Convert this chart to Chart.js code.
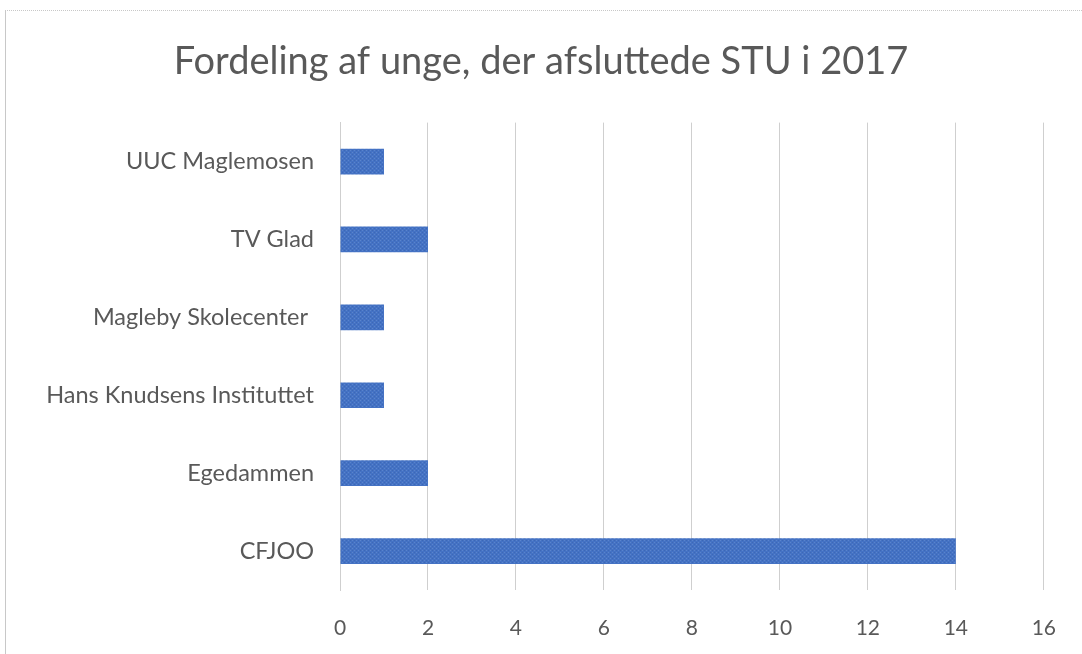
<!DOCTYPE html>
<html>
<head>
<meta charset="utf-8">
<script src="https://cdn.jsdelivr.net/npm/chart.js@4"></script>
<style>
  html, body { margin: 0; padding: 0; background: #fff; }
  #wrap {
    position: absolute; left: 0; top: 0; width: 1082px; height: 654px;
  }
  #frame {
    position: absolute; left: 5px; top: 10px; right: 0; bottom: 0;
    border-top: 1px dotted #c8c8c8; border-left: 1px solid #c8c8c8;
  }
  canvas { position: absolute; left: 0; top: 0; }
</style>
</head>
<body>
<div id="wrap">
  <div id="frame"></div>
  <canvas id="chart" width="1082" height="654"></canvas>
</div>
<script>
// data
const categories = [
  "UUC Maglemosen",
  "TV Glad",
  "Magleby Skolecenter ",
  "Hans Knudsens Instituttet",
  "Egedammen",
  "CFJOO"
];
const values = [1, 2, 1, 1, 2, 14];
const xTicks = [0, 2, 4, 6, 8, 10, 12, 14, 16];

const textColor = "#595959";
const fontFamily = "Lato, 'Open Sans', sans-serif";

// small dotted fill, like the textured bars of the original
function barPattern() {
  const p = document.createElement("canvas");
  p.width = 4; p.height = 4;
  const g = p.getContext("2d");
  g.fillStyle = "#4472c4";
  g.fillRect(0, 0, 4, 4);
  g.fillStyle = "#5a84cc";
  g.fillRect(0, 0, 1, 1);
  g.fillRect(2, 2, 1, 1);
  g.fillStyle = "#3d68b6";
  g.fillRect(2, 0, 1, 1);
  g.fillRect(0, 2, 1, 1);
  return g.createPattern(p, "repeat");
}

const ctx = document.getElementById("chart").getContext("2d");
new Chart(ctx, {
  type: "bar",
  data: {
    labels: categories,
    datasets: [{
      data: values,
      backgroundColor: barPattern(),
      borderWidth: 0,
      categoryPercentage: 1,
      barPercentage: 0.33
    }]
  },
  options: {
    indexAxis: "y",
    responsive: false,
    animation: false,
    // left padding shifts the title centre a bit to the right, like the original
    layout: { padding: { top: 0, right: 32, bottom: 14, left: 32 } },
    plugins: {
      legend: { display: false },
      tooltip: { enabled: false },
      title: {
        display: true,
        text: "Fordeling af unge, der afsluttede STU i 2017",
        color: textColor,
        font: { family: fontFamily, size: 38, weight: "normal" },
        padding: { top: 39, bottom: 38 }
      }
    },
    scales: {
      x: {
        min: xTicks[0],
        max: xTicks[xTicks.length - 1],
        afterBuildTicks: (s) => { s.ticks = xTicks.map((v) => ({ value: v })); },
        afterFit: (s) => { s.height = 50; },
        grid: { color: "#cfcfcf", drawTicks: false },
        border: { display: false },
        ticks: {
          color: textColor,
          padding: 26,
          font: { family: fontFamily, size: 21 }
        }
      },
      y: {
        afterFit: (s) => { s.width = 308; },
        grid: { display: false },
        border: { display: true, color: "#cfcfcf", dash: [2, 2] },
        ticks: {
          color: textColor,
          padding: 18,
          font: { family: fontFamily, size: 23.5 }
        }
      }
    }
  }
});
</script>
</body>
</html>
